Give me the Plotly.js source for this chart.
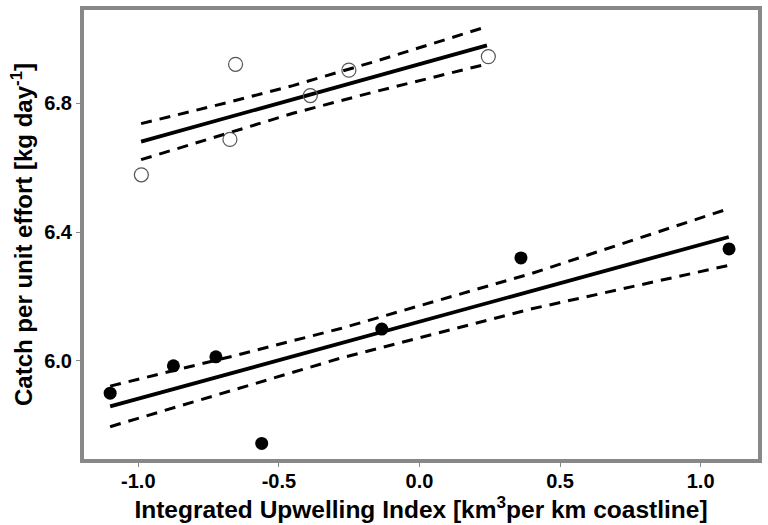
<!DOCTYPE html>
<html>
<head>
<meta charset="utf-8">
<script src="https://cdn.plot.ly/plotly-3.0.1.min.js"></script>
<style>html,body{margin:0;padding:0;background:#fff;}#chart{width:768px;height:525px;}</style>
</head>
<body>
<div id="chart"></div>
<script>
// Open circles (upper group)
const xOpen = [-0.989, -0.674, -0.654, -0.388, -0.251, 0.245];
const yOpen = [6.578, 6.688, 6.921, 6.824, 6.903, 6.945];
// Filled circles (lower group)
const xFilled = [-1.100, -0.875, -0.724, -0.561, -0.134, 0.361, 1.101];
const yFilled = [5.900, 5.985, 6.013, 5.744, 6.099, 6.320, 6.348];

// Regression line, upper group
const xFitU = [-0.99, 0.24];
const yFitU = [6.681, 6.980];
const xBandU = [-0.99, -0.68, -0.45, -0.15, 0.24];
const hiU = [6.737, 6.803, 6.855, 6.932, 7.038];
const loU = [6.625, 6.709, 6.769, 6.838, 6.922];

// Regression line, lower group
const xFitL = [-1.10, 1.10];
const yFitL = [5.859, 6.385];
const xBandL = [-1.10, -0.65, -0.28, 0.40, 1.10];
const hiL = [5.922, 6.018, 6.101, 6.272, 6.473];
const loL = [5.796, 5.914, 6.009, 6.162, 6.297];

// Tick labels
const xTickVals = [-1.0, -0.5, 0.0, 0.5, 1.0];
const xTickText = ['-1.0', '-0.5', '0.0', '0.5', '1.0'];
const yTickVals = [6.0, 6.4, 6.8];
const yTickText = ['6.0', '6.4', '6.8'];

const solid = {color: '#000', width: 3.8};
const dashed = {color: '#000', width: 3, dash: '11px,8px'};

const traces = [
  {x: xBandU, y: hiU, mode: 'lines', line: dashed, hoverinfo: 'skip'},
  {x: xBandU, y: loU, mode: 'lines', line: dashed, hoverinfo: 'skip'},
  {x: xFitU, y: yFitU, mode: 'lines', line: solid},
  {x: xBandL, y: hiL, mode: 'lines', line: dashed, hoverinfo: 'skip'},
  {x: xBandL, y: loL, mode: 'lines', line: dashed, hoverinfo: 'skip'},
  {x: xFitL, y: yFitL, mode: 'lines', line: solid},
  {x: xOpen, y: yOpen, mode: 'markers',
   marker: {symbol: 'circle-open', size: 14, color: '#555', line: {width: 1.2, color: '#555'}}},
  {x: xFilled, y: yFilled, mode: 'markers',
   marker: {symbol: 'circle', size: 13, color: '#000'}}
];

const fontFam = '"Liberation Sans", Arial, sans-serif';
const layout = {
  width: 768, height: 525,
  margin: {l: 84, r: 10, t: 10, b: 66},
  paper_bgcolor: '#fff', plot_bgcolor: '#fff',
  showlegend: false,
  font: {family: fontFam, color: '#000'},
  xaxis: {
    range: [-1.193, 1.204],
    showgrid: false, zeroline: false,
    showline: true, mirror: true, linecolor: '#888', linewidth: 4,
    ticks: 'outside', ticklen: 4, tickwidth: 1, tickcolor: '#888',
    ticklabelstandoff: -3,
    tickvals: xTickVals, ticktext: xTickText,
    tickfont: {family: fontFam, size: 20, color: '#000', weight: 'bold'},
    title: {text: 'Integrated Upwelling Index [km<sup>3</sup>per km coastline]',
            font: {family: fontFam, size: 24.5, color: '#000', weight: 'bold'}, standoff: 0}
  },
  yaxis: {
    range: [5.6957, 7.0897],
    showgrid: false, zeroline: false,
    showline: true, mirror: true, linecolor: '#888', linewidth: 4,
    ticks: 'outside', ticklen: 4, tickwidth: 1, tickcolor: '#888',
    tickvals: yTickVals, ticktext: yTickText,
    tickfont: {family: fontFam, size: 20, color: '#000', weight: 'bold'},
    title: {text: 'Catch per unit effort [kg day<sup>-1</sup>]',
            font: {family: fontFam, size: 24, color: '#000', weight: 'bold'}, standoff: 6}
  }
};

Plotly.newPlot('chart', traces, layout, {staticPlot: true, displayModeBar: false});
</script>
</body>
</html>
